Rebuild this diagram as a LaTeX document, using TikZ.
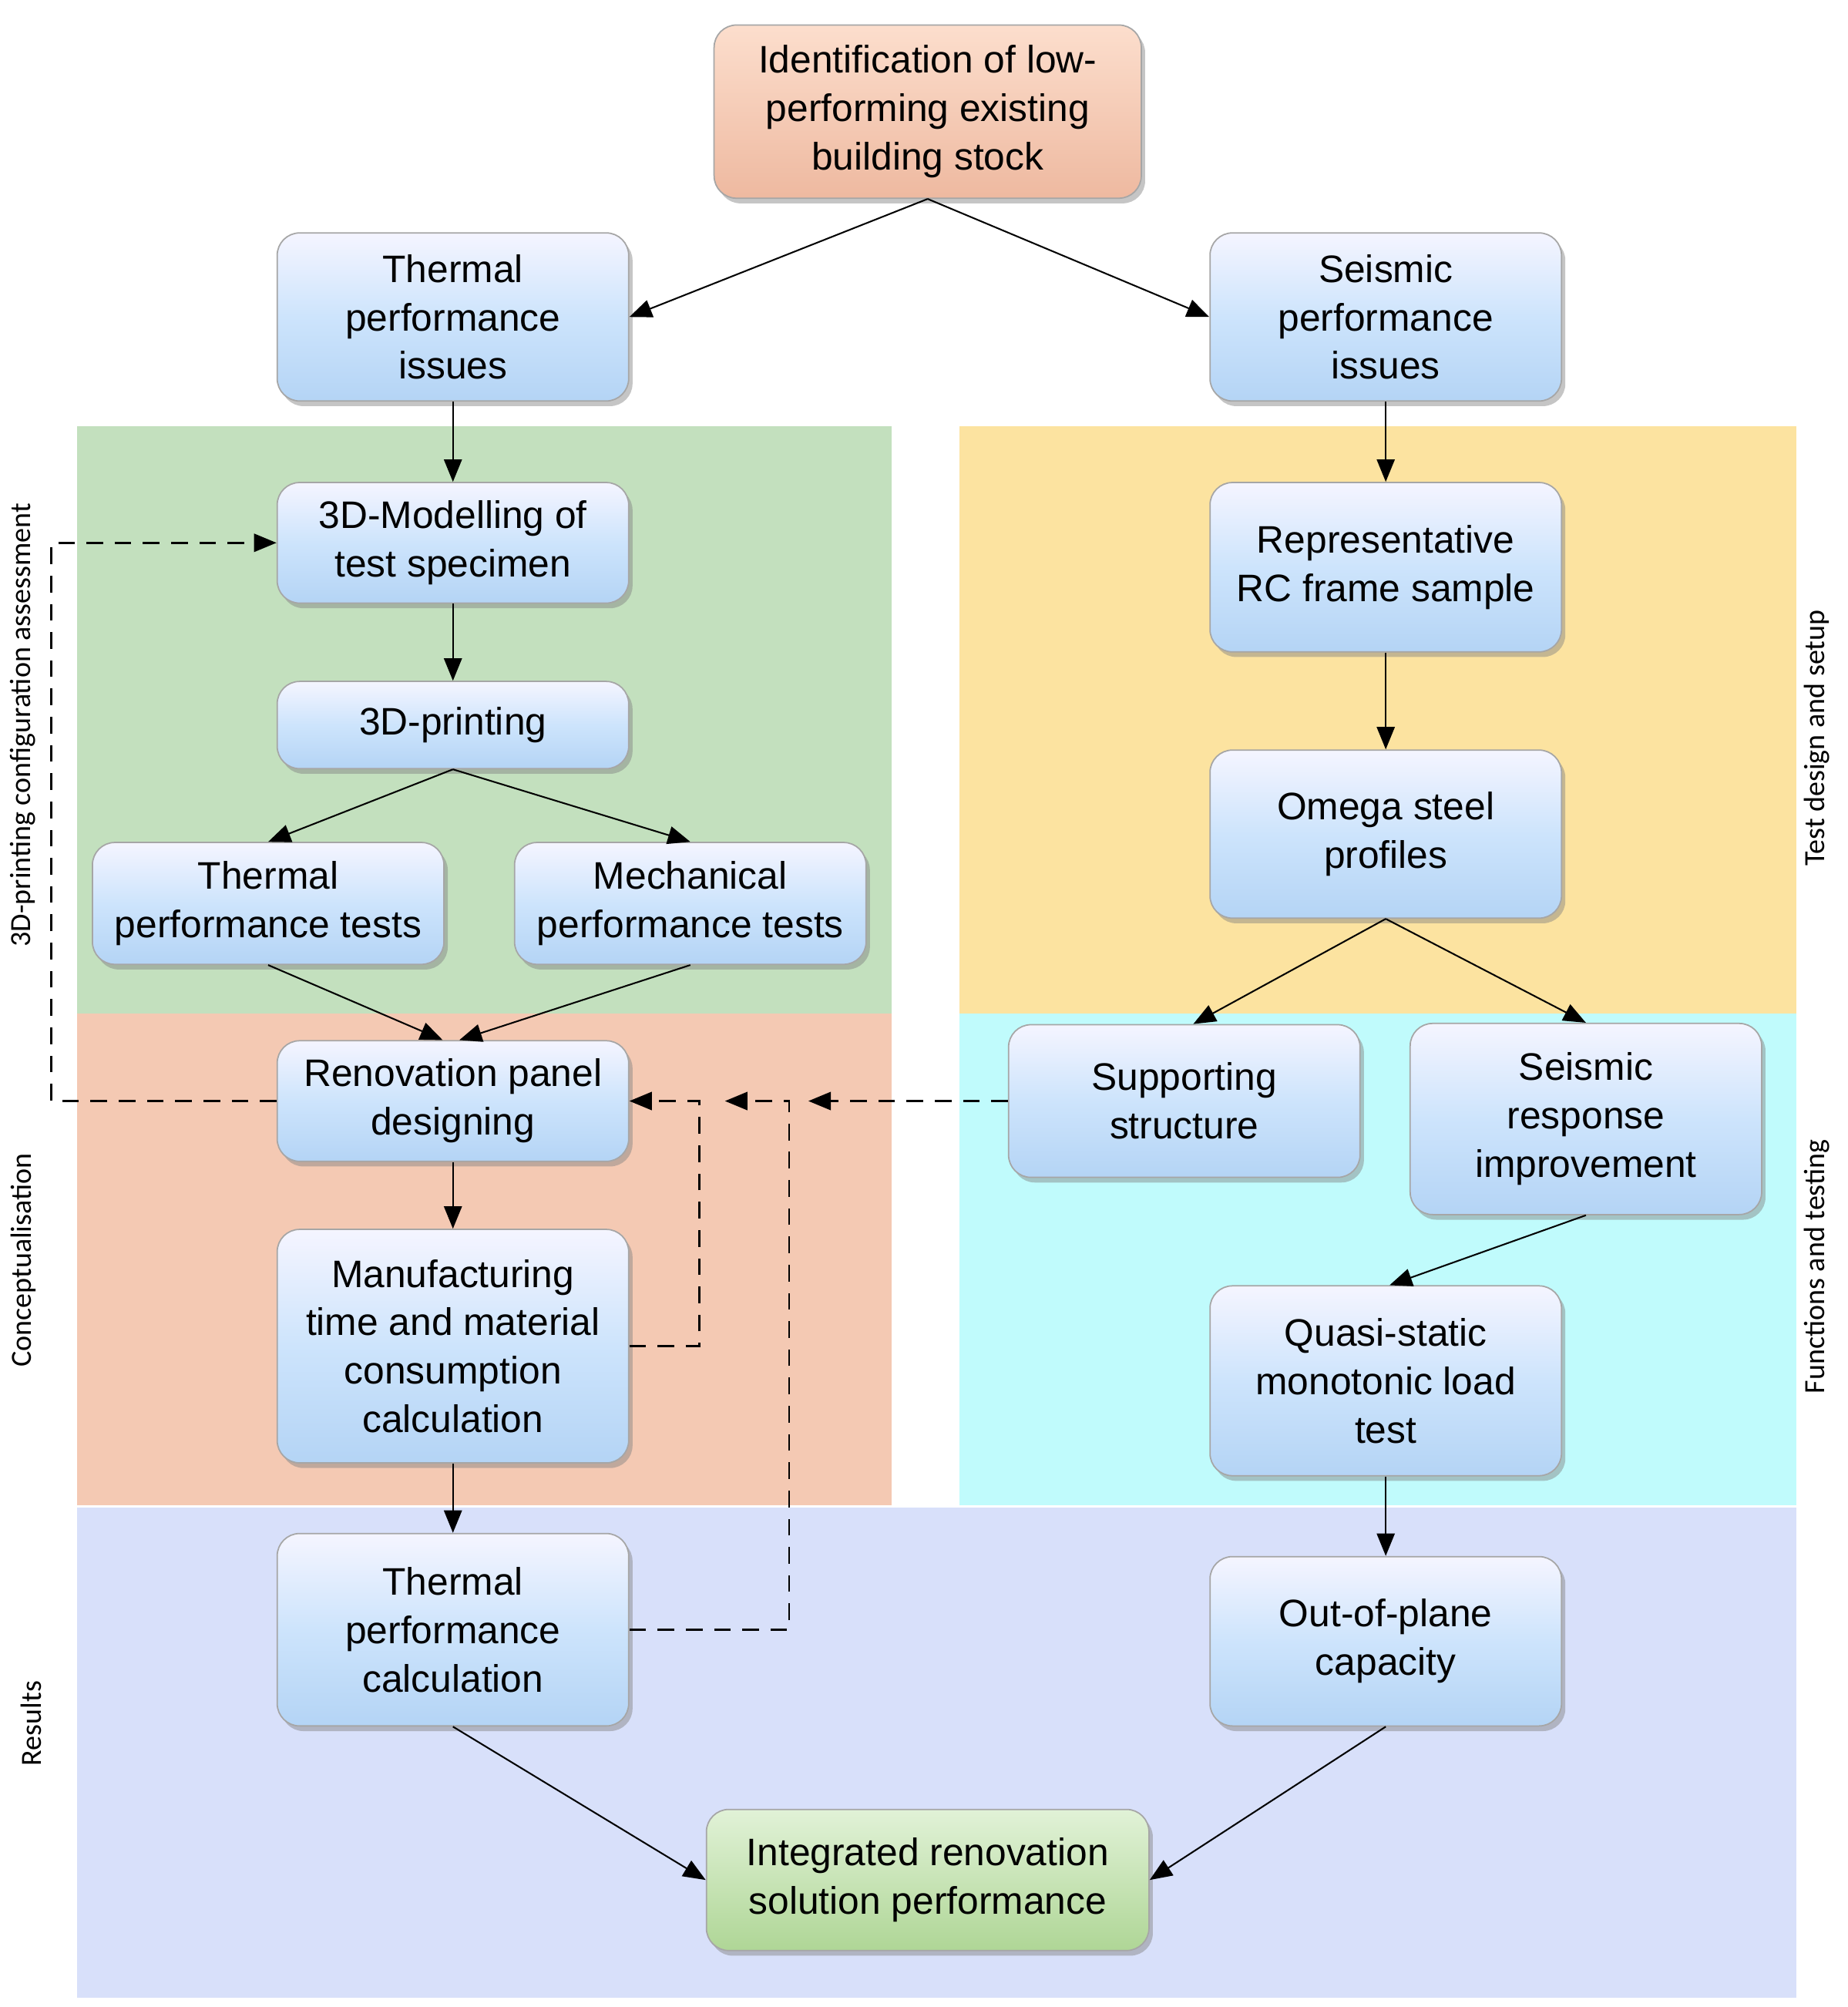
\documentclass[tikz,border=0pt]{standalone}
\usepackage{fontspec}
\setmainfont{Liberation Sans}
\newfontfamily\sidefont{Carlito}
\usetikzlibrary{shadows,arrows.meta}
\definecolor{bgreen}{HTML}{C3E0BE}
\definecolor{byellow}{HTML}{FCE3A0}
\definecolor{bsalmon}{HTML}{F4C9B3}
\definecolor{bcyan}{HTML}{C0FBFC}
\definecolor{blav}{HTML}{D8E0FA}
\tikzset{
 box/.style={rounded corners=0.35cm, draw=black!35, line width=0.6pt, top color=blue!4!white, bottom color={rgb,255:red,180;green,212;blue,245}, middle color={rgb,255:red,205;green,228;blue,252}, drop shadow={opacity=0.45,shadow xshift=0.6mm,shadow yshift=-0.8mm}, align=center, font=\fontsize{17}{21.5}\selectfont, minimum width=5.48cm, inner sep=2pt},
 arr/.style={-{Triangle[length=3.5mm,width=2.8mm]}, line width=0.7pt},
 dsh/.style={arr, dash pattern=on 2.6mm off 1.8mm, line width=1pt},
 side/.style={font=\sidefont\fontsize{13}{15}\selectfont, rotate=90}
}
\begin{document}
\begin{tikzpicture}[x=0.02cm,y=-0.02cm]
\useasboundingbox (0,0) rectangle (1440,1564);
\fill[white] (0,0) rectangle (1440,1564);
\fill[bgreen] (60,332) rectangle (695,790);
\fill[byellow] (748,332) rectangle (1400,790);
\fill[bsalmon] (60,790) rectangle (695,1173);
\fill[bcyan] (748,790) rectangle (1400,1173);
\fill[blav] (60,1175) rectangle (1400,1557);

\node[box, minimum width=6.66cm, minimum height=2.7cm, top color={rgb,255:red,252;green,222;blue,205}, middle color={rgb,255:red,247;green,204;blue,180}, bottom color={rgb,255:red,238;green,185;blue,160}] (top) at (723,87) {Identification of low-\\performing existing\\building stock};
\node[box, minimum height=2.62cm] (ti) at (353,247) {Thermal\\performance\\issues};
\node[box, minimum height=2.62cm] (si) at (1080,247) {Seismic\\performance\\issues};
\node[box, minimum height=1.88cm] (mod) at (353,423) {3D-Modelling of\\test specimen};
\node[box, minimum height=1.36cm] (pr) at (353,565) {3D-printing};
\node[box, minimum height=1.9cm] (tt) at (209,704) {Thermal\\performance tests};
\node[box, minimum height=1.9cm] (mt) at (538,704) {Mechanical\\performance tests};
\node[box, minimum height=1.88cm] (rp) at (353,858) {Renovation panel\\designing};
\node[box, minimum height=3.64cm] (mf) at (353,1049) {Manufacturing\\time and material\\consumption\\calculation};
\node[box, minimum height=3.0cm] (tc) at (353,1270) {Thermal\\performance\\calculation};
\node[box, minimum width=6.9cm, minimum height=2.2cm, top color={rgb,255:red,225;green,242;blue,215}, middle color={rgb,255:red,204;green,232;blue,188}, bottom color={rgb,255:red,175;green,214;blue,150}] (int) at (723,1465) {Integrated renovation\\solution performance};
\node[box, minimum height=2.64cm] (rc) at (1080,442) {Representative\\RC frame sample};
\node[box, minimum height=2.62cm] (om) at (1080,650) {Omega steel\\profiles};
\node[box, minimum height=2.38cm] (ss) at (923,858) {Supporting\\structure};
\node[box, minimum height=2.98cm] (sr) at (1236,872) {Seismic\\response\\improvement};
\node[box, minimum height=2.96cm] (qs) at (1080,1076) {Quasi-static\\monotonic load\\test};
\node[box, minimum height=2.64cm] (op) at (1080,1279) {Out-of-plane\\capacity};

\draw[arr] (top.south) -- (ti.east);
\draw[arr] (top.south) -- (si.west);
\draw[arr] (ti) -- (mod);
\draw[arr] (mod) -- (pr);
\draw[arr] (pr.south) -- (tt.north);
\draw[arr] (pr.south) -- (mt.north);
\draw[arr] (tt.south) -- ([xshift=-0.16cm]rp.north);
\draw[arr] (mt.south) -- ([xshift=0.1cm]rp.north);
\draw[arr] (rp) -- (mf);
\draw[arr] (mf) -- (tc);
\draw[arr] (tc.south) -- (int.west);
\draw[arr] (op.south) -- (int.east);
\draw[arr] (si) -- (rc);
\draw[arr] (rc) -- (om);
\draw[arr] (om.south) -- ([xshift=0.14cm]ss.north);
\draw[arr] (om.south) -- (sr.north);
\draw[arr] (sr.south) -- ([xshift=0.06cm]qs.north);
\draw[arr] (qs) -- (op);

\coordinate (a1) at (630,858);
\coordinate (a2) at (565,858);
\draw[dsh] (rp.west) -| (40,423) -- (mod.west);
\draw[dsh] (ss.west) -- (a1);
\draw[dsh] (tc.east) -| (615,858) -- (a2);
\draw[dsh] (mf.east) -| (545,858) -- (rp.east);

\node[side] at (18,565) {3D-printing configuration assessment};
\node[side] at (18,982) {Conceptualisation};
\node[side] at (24,1343) {Results};
\node[side] at (1416,575) {Test design and setup};
\node[side] at (1416,987) {Functions and testing};
\end{tikzpicture}
\end{document}
